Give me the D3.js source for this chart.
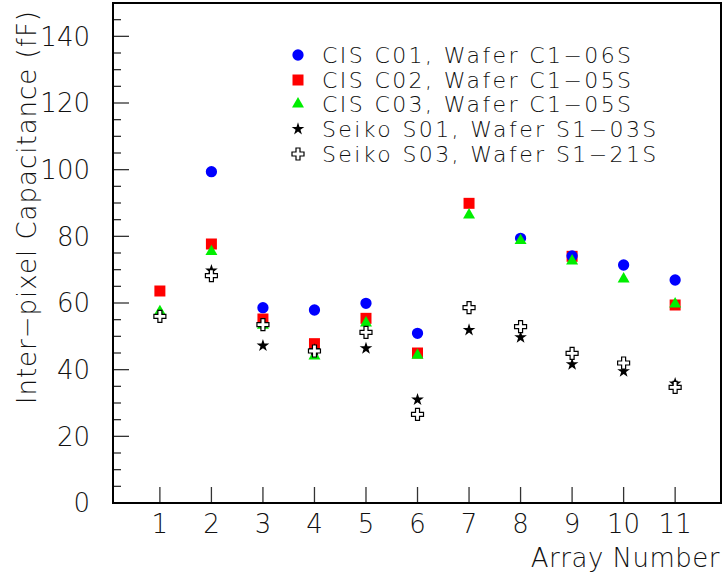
<!DOCTYPE html>
<html>
<head>
<meta charset="utf-8">
<script src="https://cdn.jsdelivr.net/npm/d3@7"></script>
<style>
  body { margin: 0; background: #fff; }
  text { font-family: "DejaVu Sans", sans-serif; font-weight: 200; fill: #111; }
</style>
</head>
<body>
<div class="chart"></div>
<script>
// data (null = no point drawn)
var arrays = [1, 2, 3, 4, 5, 6, 7, 8, 9, 10, 11];
var cisC01 = [null, 99.4, 58.6, 57.9, 59.9, 50.9, null, 79.4, 74.1, 71.4, 66.9];
var cisC02 = [63.6, 77.7, 55.2, 47.8, 55.4, 45.0, 89.9, null, 74.0, null, 59.4];
var cisC03 = [57.4, 75.4, 53.3, 44.1, 54.0, 44.3, 86.4, 78.7, 72.6, 67.2, 59.7];
var seikoS01 = [null, 69.7, 47.2, 45.9, 46.4, 31.0, 51.9, 49.7, 41.6, 39.5, 35.8];
var seikoS03 = [56.0, 68.2, 53.5, 45.6, 51.2, 26.6, 58.6, 52.9, 44.9, 42.0, 34.7];
var legendLabels = [
  "CIS C01, Wafer C1\u221206S",
  "CIS C02, Wafer C1\u221205S",
  "CIS C03, Wafer C1\u221205S",
  "Seiko S01, Wafer S1\u221203S",
  "Seiko S03, Wafer S1\u221221S"
];
var yMajorTicks = [0, 20, 40, 60, 80, 100, 120, 140];

var svgWidth = 723;
var svgHeight = 575;

var frame = { left: 113, right: 721, top: 3, bottom: 503 };

var svg = d3.select(".chart")
  .append("svg")
  .attr("width", svgWidth)
  .attr("height", svgHeight);

var xScale = d3.scaleLinear()
  .domain([0.09, 11.89])
  .range([frame.left, frame.right]);

var yScale = d3.scaleLinear()
  .domain([0, 150])
  .range([frame.bottom, frame.top]);

// series styles: draw order red, blue, green, star, cross
var series = [
  { values: cisC02, sym: d3.symbolSquare, size: 121, fill: "#ff0000", stroke: "none", leg: 1 },
  { values: cisC01, sym: d3.symbolCircle, size: 100, fill: "#0000ff", stroke: "none", leg: 0 },
  { values: cisC03, sym: d3.symbolTriangle, size: 62, fill: "#00ee00", stroke: "none", leg: 2 },
  { values: seikoS01, sym: d3.symbolStar, size: 50, fill: "#000", stroke: "none", leg: 3 },
  { values: seikoS03, sym: d3.symbolCross, size: 80, fill: "#fff", stroke: "#000", leg: 4 }
];

// y axis ticks (major + minor)
var yAxisG = svg.append("g");
d3.range(0, 150, 5).forEach(function(v) {
  var major = v % 20 === 0;
  yAxisG.append("line")
    .attr("x1", frame.left)
    .attr("x2", frame.left + (major ? 16 : 8))
    .attr("y1", yScale(v))
    .attr("y2", yScale(v))
    .attr("stroke", "#333")
    .attr("stroke-width", 1.3);
});
yAxisG.selectAll("text.ytick")
  .data(yMajorTicks)
  .enter()
  .append("text")
  .attr("x", 90)
  .attr("y", d => yScale(d))
  .attr("dy", "0.36em")
  .attr("text-anchor", "end")
  .style("font-size", "26px")
  .text(d => d);

// x axis ticks
var xAxisG = svg.append("g");
xAxisG.selectAll("line")
  .data(arrays)
  .enter()
  .append("line")
  .attr("x1", d => xScale(d))
  .attr("x2", d => xScale(d))
  .attr("y1", frame.bottom)
  .attr("y2", frame.bottom - 16)
  .attr("stroke", "#333")
  .attr("stroke-width", 1.3);
xAxisG.selectAll("text")
  .data(arrays)
  .enter()
  .append("text")
  .attr("x", d => xScale(d))
  .attr("y", 533)
  .attr("text-anchor", "middle")
  .style("font-size", "26px")
  .text(d => d);

// frame
svg.append("rect")
  .attr("x", frame.left)
  .attr("y", frame.top)
  .attr("width", frame.right - frame.left)
  .attr("height", frame.bottom - frame.top)
  .attr("fill", "none")
  .attr("stroke", "#000")
  .attr("stroke-width", 2);

// axis titles
svg.append("text")
  .attr("x", 720)
  .attr("y", 567)
  .attr("text-anchor", "end")
  .style("font-size", "26px")
  .style("letter-spacing", "0.5px")
  .text("Array Number");

svg.append("text")
  .attr("transform", "translate(36, 10) rotate(-90)")
  .attr("text-anchor", "end")
  .style("font-size", "26px")
  .style("letter-spacing", "1px")
  .text("Inter\u2212pixel Capacitance (fF)");

// points
series.forEach(function(s) {
  var pts = arrays.map((a, i) => ({ x: a, y: s.values[i] })).filter(d => d.y !== null);
  svg.append("g").selectAll("path")
    .data(pts)
    .enter()
    .append("path")
    .attr("d", d3.symbol().type(s.sym).size(s.size))
    .attr("transform", d => `translate(${xScale(d.x)}, ${yScale(d.y)})`)
    .attr("fill", s.fill)
    .attr("stroke", s.stroke)
    .attr("stroke-width", 1.2);
});

// legend
var legendG = svg.append("g");
var legendY = [55, 80, 104, 129, 154];
series.forEach(function(s) {
  legendG.append("path")
    .attr("d", d3.symbol().type(s.sym).size(s.size))
    .attr("transform", `translate(298, ${legendY[s.leg]})`)
    .attr("fill", s.fill)
    .attr("stroke", s.stroke)
    .attr("stroke-width", 1.2);
});
legendG.selectAll("text")
  .data(legendLabels)
  .enter()
  .append("text")
  .attr("x", 322)
  .attr("y", (d, i) => legendY[i])
  .attr("dy", "0.36em")
  .style("font-size", "22px")
  .style("letter-spacing", "2.4px")
  .text(d => d);
</script>
</body>
</html>
